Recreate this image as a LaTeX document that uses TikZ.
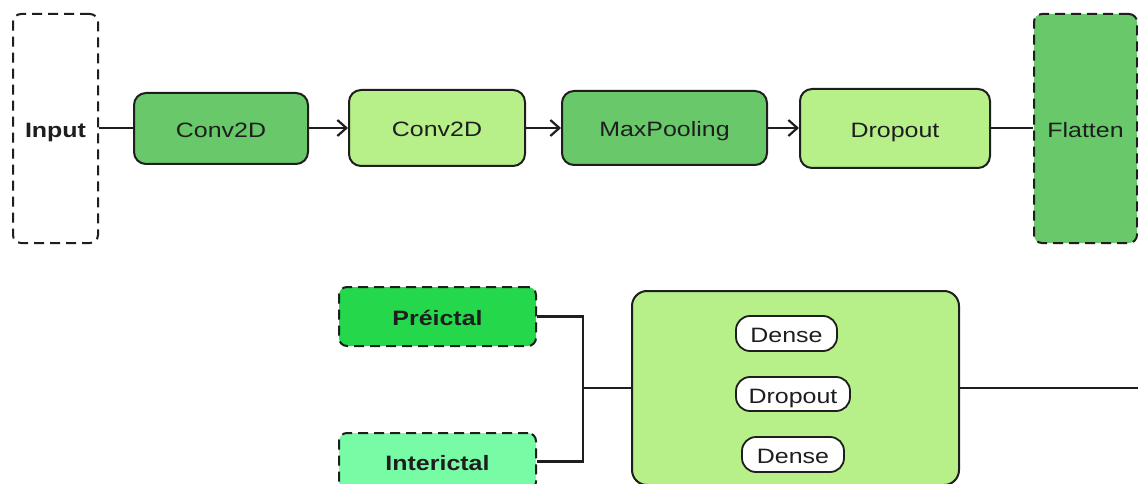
\documentclass[tikz,border=0pt]{standalone}
\usepackage{fontspec}
\setmainfont{Liberation Sans}[FakeStretch=1.2]
\usetikzlibrary{arrows.meta}
\definecolor{midgreen}{HTML}{68C86A}
\definecolor{lightgreen}{HTML}{B7EF89}
\definecolor{brightgreen}{HTML}{25D84B}
\definecolor{mintgreen}{HTML}{77FCA5}
\definecolor{edge}{HTML}{1E1E1E}
\tikzset{
  x=1pt, y=-1pt,
  every node/.style={font=\fontsize{20.8}{24}\selectfont, text=edge, inner sep=0pt,
    text height=18pt, text depth=0pt},
  layer/.style={draw=edge, line width=2pt, rounded corners=12pt, rectangle},
  dashedbox/.style={draw=edge, line width=2pt, rounded corners=8pt, rectangle,
    dash pattern=on 10pt off 6pt},
  pill/.style={draw=edge, line width=1.8pt, fill=white, rounded corners=14pt, rectangle},
  wire/.style={draw=edge, line width=2.2pt},
  flow/.style={wire, -{Straight Barb[length=9pt,width=16pt,line width=2.2pt]}},
}
\begin{document}
\begin{tikzpicture}
\useasboundingbox (0,0) rectangle (1138,484);
\clip (0,0) rectangle (1138,484);

% feature extraction row
\node[dashedbox, fill=white, minimum width=85pt, minimum height=229pt] (input) at (55.5,128.5) {\bfseries Input};
\node[layer, fill=midgreen, minimum width=174pt, minimum height=71pt] (conv1) at (221,128.5) {Conv2D};
\node[layer, fill=lightgreen, minimum width=176pt, minimum height=76pt] (conv2) at (437,128) {Conv2D};
\node[layer, fill=midgreen, minimum width=205pt, minimum height=74pt] (pool) at (664.5,128) {MaxPooling};
\node[layer, fill=lightgreen, minimum width=190pt, minimum height=79pt] (drop) at (895,128.5) {Dropout};
\node[dashedbox, fill=midgreen, minimum width=103pt, minimum height=229pt] (flat) at (1085.5,128.5) {Flatten};

\draw[wire] (input.east |- 0,128) -- (conv1.west |- 0,128);
\draw[flow] (conv1.east |- 0,128) -- (conv2.west |- 0,128);
\draw[flow] (conv2.east |- 0,128) -- (pool.west |- 0,128);
\draw[flow] (pool.east |- 0,128) -- (drop.west |- 0,128);
\draw[wire] (drop.east |- 0,128) -- (flat.west |- 0,128);

% classifier row
\node[dashedbox, fill=brightgreen, minimum width=197pt, minimum height=59pt] (pre) at (437.5,316.5) {\bfseries Préictal};
\node[dashedbox, fill=mintgreen, minimum width=197pt, minimum height=57pt] (inter) at (437.5,461.5) {\bfseries Interictal};
\node[layer, fill=lightgreen, rounded corners=15pt, minimum width=327pt, minimum height=194pt] (head) at (795.5,388) {};
\node[pill, minimum width=101pt, minimum height=35pt] (dense1) at (786.5,333.5) {Dense};
\node[pill, minimum width=114pt, minimum height=34pt] (drop2) at (793,394) {Dropout};
\node[pill, minimum width=102pt, minimum height=35pt] (dense2) at (793,454.5) {Dense};

\coordinate (join) at (583,388);
\coordinate (out) at (1140,388);
\draw[wire] (pre.east) -| (join);
\draw[wire] (inter.east) -| (join);
\draw[wire] (join) -- (head.west);
\draw[wire] (head.east) -- (out);
\end{tikzpicture}
\end{document}
